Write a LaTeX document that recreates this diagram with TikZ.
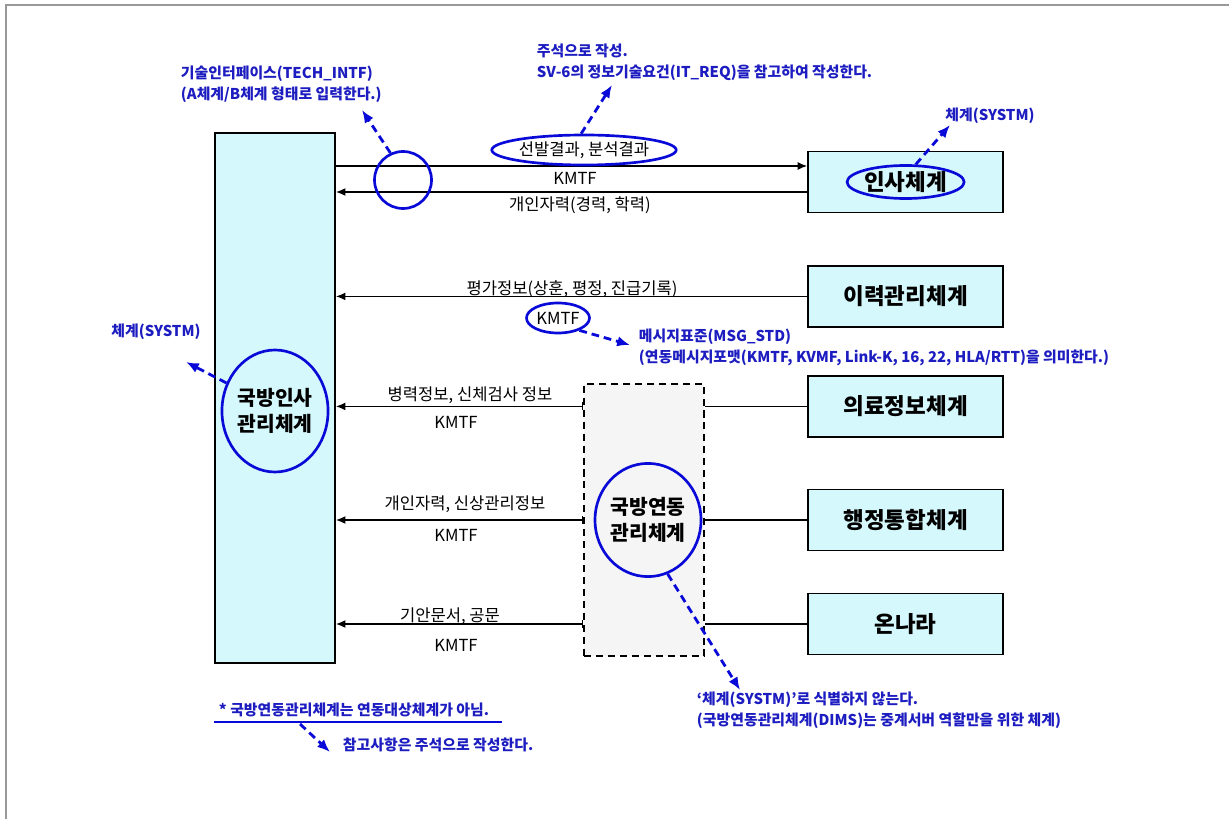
\documentclass[tikz,border=0pt]{standalone}
\usepackage{fontspec}
\setmainfont{Noto Sans CJK KR}
\usetikzlibrary{arrows.meta, positioning, shapes.geometric, calc}
\definecolor{sysfill}{HTML}{D5F8FC}
\definecolor{dimsfill}{HTML}{F5F5F5}
\definecolor{annoblue}{HTML}{0A0AD8}
\definecolor{notetext}{HTML}{1C1CC0}
\definecolor{framegray}{HTML}{999999}

\begin{document}
\begin{tikzpicture}[
    sysbox/.style={draw, line width=1.2pt, fill=sysfill, minimum width=4.875cm, minimum height=1.525cm,
                   font=\fontsize{16}{19}\selectfont\bfseries},
    oval/.style={ellipse, draw=annoblue, line width=1.9pt, inner sep=0pt},
    flow/.style={font=\fontsize{11.8}{14}\selectfont},
    note/.style={text=notetext, align=left, font=\fontsize{10.6}{15.2}\selectfont\bfseries},
    arrow/.style={-{Latex[length=2.4mm,width=2mm]}, line width=1.1pt},
    tarrow/.style={{Bar[width=2mm]}-{Latex[length=2.4mm,width=2mm]}, line width=1.1pt},
    noteline/.style={-{Latex[length=3.2mm,width=2.6mm]}, dash pattern=on 5.5pt off 3.5pt, line width=2pt, annoblue}
  ]
    \useasboundingbox (0,0) rectangle (30.725,-20.475);
    % page frame
    \draw[framegray, line width=1.5pt] (0.15,-20.475) -- (0.15,-0.125) -- (30.725,-0.125);

    % Main system
    \node[sysbox, minimum width=3cm, minimum height=13.25cm] (sys) at (6.875,-9.95) {};
    \node[oval, minimum width=2.35cm, minimum height=3.05cm, align=center,
          font=\fontsize{14.5}{19}\selectfont\bfseries] (sysName) at (6.875,-10.275) {국방인사\\관리체계};

    % Target systems
    \node[sysbox] (insa) at (22.64,-4.55) {};
    \node[oval, minimum width=2.2cm, minimum height=0.825cm,
          font=\fontsize{16}{19}\selectfont\bfseries] (insaName) at (insa) {인사체계};
    \node[sysbox] (iryeok) at (22.64,-7.41) {이력관리체계};
    \node[sysbox] (medical) at (22.64,-10.16) {의료정보체계};
    \node[sysbox] (admin) at (22.64,-13.0) {행정통합체계};
    \node[sysbox] (onnara) at (22.64,-15.6) {온나라};

    % Relay (DIMS)
    \node[draw, dash pattern=on 5pt off 3.5pt, line width=1.1pt, fill=dimsfill,
          minimum width=3cm, minimum height=6.8cm] (dims) at (16.1,-13.0) {};
    \node[oval, minimum width=2.4cm, minimum height=2.83cm, align=center,
          font=\fontsize{14.5}{19}\selectfont\bfseries] (dimsName) at (16.2,-13.0) {국방연동\\관리체계};

    % Connectors
    \coordinate (out1) at ([yshift=4mm]insa.west);
    \coordinate (in1) at ([yshift=-2.5mm]insa.west);
    \draw[arrow] (sys.east |- out1) -- (out1);
    \draw[arrow] (in1) -- (sys.east |- in1);
    \draw[arrow] (iryeok.west) -- (sys.east |- iryeok.west);
    \foreach \s in {medical, admin, onnara} {
      \draw[line width=1.1pt] (\s.west) -- (dims.east |- \s.west);
      \draw[tarrow] (dims.west |- \s.west) -- (sys.east |- \s.west);
    }

    % Flow labels
    \node[oval, flow, minimum width=4.2cm, minimum height=0.75cm] (sel) at (14.6,-3.75) {선발결과, 분석결과};
    \node[flow] (kmtf1) at (14.375,-4.45) {KMTF};
    \node[flow] (career) at (14.5,-5.125) {개인자력(경력, 학력)};
    \node[circle, draw=annoblue, line width=1.9pt, minimum size=1.425cm] (intf) at (10.075,-4.5) {};

    \node[flow] (eval) at (14.3,-7.225) {평가정보(상훈, 평정, 진급기록)};
    \node[oval, flow, minimum width=1.575cm, minimum height=0.75cm] (kmtf2) at (13.95,-7.95) {KMTF};

    \node[flow] (medLbl) at (11.75,-9.875) {병력정보, 신체검사 정보};
    \node[flow] (kmtf3) at (11.4,-10.55) {KMTF};
    \node[flow] (admLbl) at (11.625,-12.6) {개인자력, 신상관리정보};
    \node[flow] (kmtf4) at (11.4,-13.375) {KMTF};
    \node[flow] (docLbl) at (11.25,-15.4) {기안문서, 공문};
    \node[flow] (kmtf5) at (11.4,-16.125) {KMTF};

    % Notes
    \node[note, anchor=west] (techNote) at (4.4,-2.1)
      {기술인터페이스(TECH\_INTF)\\(A체계/B체계 형태로 입력한다.)};
    \node[note, anchor=west] (reqNote) at (13.3,-1.55)
      {주석으로 작성.\\SV-6의 정보기술요건(IT\_REQ)을 참고하여 작성한다.};
    \node[note] (insaNote) at (24.75,-2.9) {체계(SYSTM)};
    \node[note] (sysNote) at (3.9,-8.3) {체계(SYSTM)};
    \node[note, anchor=west] (msgNote) at (15.85,-8.69)
      {메시지표준(MSG\_STD)\\(연동메시지포맷(KMTF, KVMF, Link-K, 16, 22, HLA/RTT)을 의미한다.)};
    \node[note, anchor=west] (dimsNote) at (17.3,-17.75)
      {‘체계(SYSTM)’로 식별하지 않는다.\\(국방연동관리체계(DIMS)는 중계서버 역할만을 위한 체계)};
    \node[note, anchor=west] (footNote) at (5.35,-17.75) {* 국방연동관리체계는 연동대상체계가 아님.};
    \node[note, anchor=west] (refNote) at (8.45,-18.625) {참고사항은 주석으로 작성한다.};
    \draw[annoblue, line width=1.6pt] (footNote.south west) -- ([xshift=2mm]footNote.south east);

    % Note arrows
    \coordinate (techTip) at (9.05,-2.75);
    \coordinate (reqTip) at (15.3,-2.125);
    \coordinate (insaTip) at (23.75,-3.125);
    \coordinate (sysTip) at (4.65,-9.05);
    \coordinate (msgTip) at (15.75,-8.625);
    \coordinate (dimsTip) at (18.5,-17.25);
    \coordinate (footStart) at (7.5,-18.1);
    \coordinate (refTip) at (8.25,-18.8);
    \draw[noteline] (intf.115) -- (techTip);
    \draw[noteline] (sel.100) -- (reqTip);
    \draw[noteline] (insaName.60) -- (insaTip);
    \draw[noteline] (sysName.150) -- (sysTip);
    \draw[noteline] (kmtf2.-30) -- (msgTip);
    \draw[noteline] (dimsName.-70) -- (dimsTip);
    \draw[noteline] (footStart) -- (refTip);
  \end{tikzpicture}
\end{document}
